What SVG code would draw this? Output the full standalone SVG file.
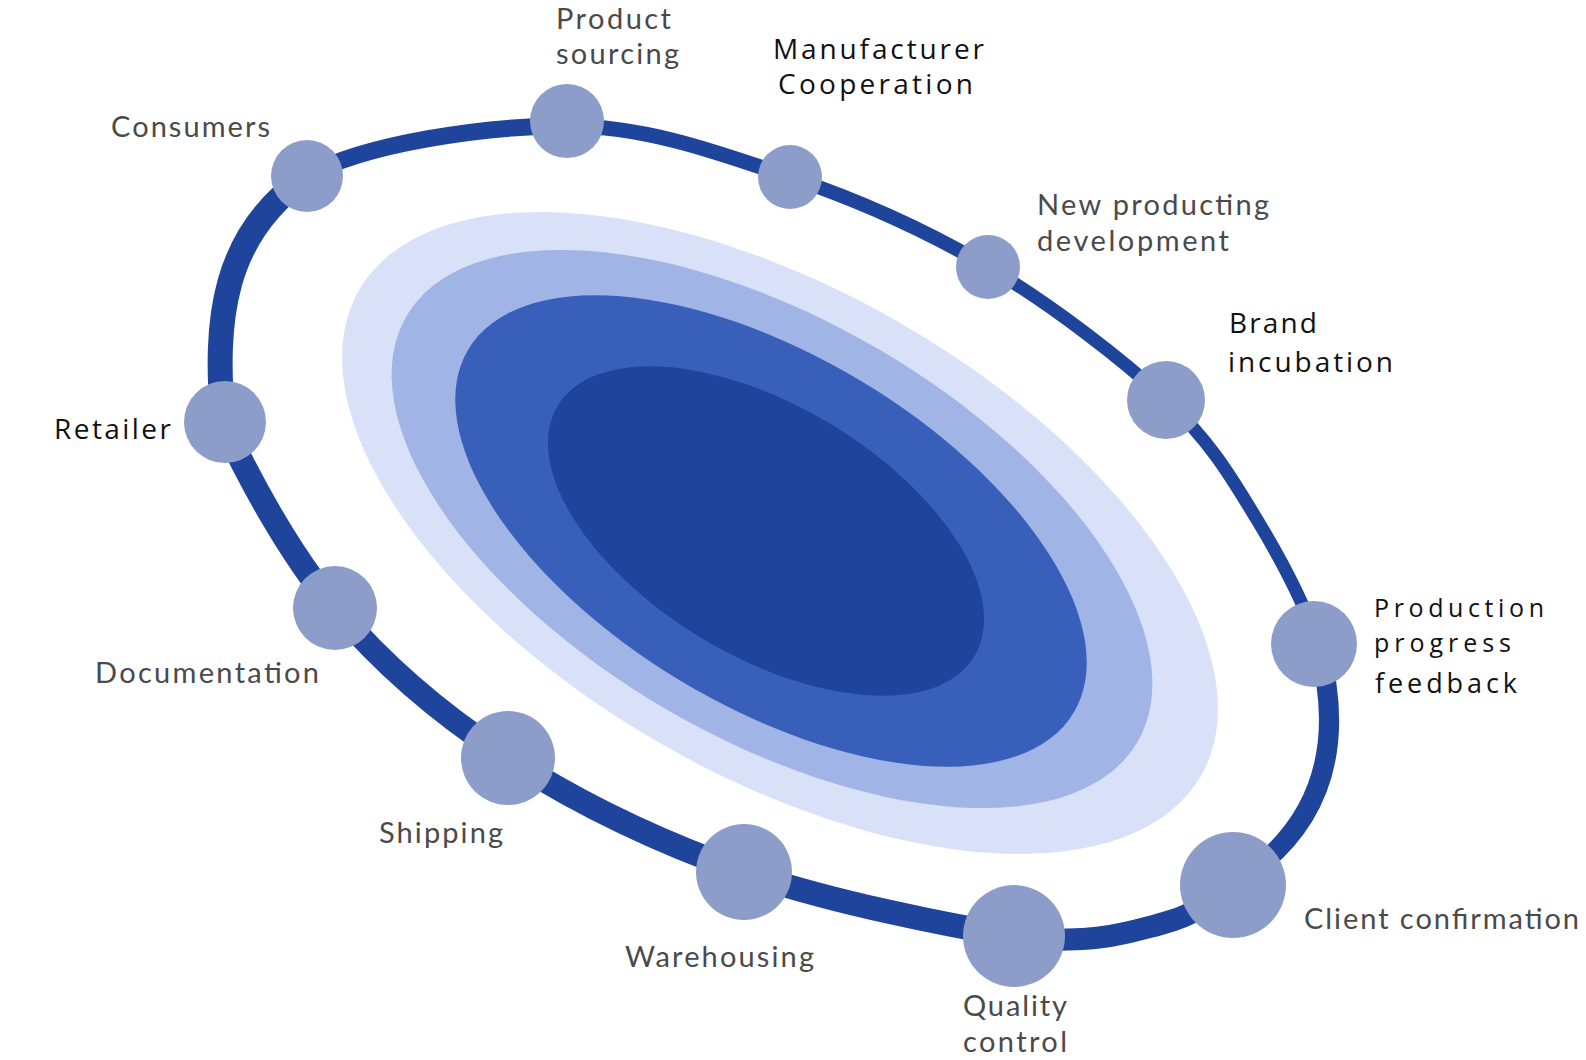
<svg xmlns="http://www.w3.org/2000/svg" width="1586" height="1060" viewBox="0 0 1586 1060">
  <style>
    .ring { fill: none; stroke: #1f449c; stroke-linecap: round; }
    .node { fill: #8c9dca; }
    .lg { font-family: Lato, "Noto Sans", "Liberation Sans", sans-serif; font-size: 29px; fill: #4a4a4a; }
    .lb { font-family: "Open Sans", "Noto Sans", "Liberation Sans", sans-serif; font-size: 28px; fill: #111111; }
  </style>
  <rect width="1586" height="1060" fill="#ffffff"/>
  <g id="core">
    <ellipse cx="780" cy="533" rx="486" ry="242" transform="rotate(30 780 533)" fill="#d8e1f8"/>
    <ellipse cx="772" cy="529" rx="423" ry="209" transform="rotate(30.2 772 529)" fill="#a0b5e6"/>
    <ellipse cx="771" cy="531" rx="353" ry="175" transform="rotate(31 771 531)" fill="#3860bb"/>
    <ellipse cx="766" cy="531" rx="243" ry="125" transform="rotate(31 766 531)" fill="#1e449c"/>
  </g>
  <g id="connectors">
    <path class="ring" stroke-width="17" d="M307,176 C364.8,143.3 486.5,125.8 567,126"/>
    <path class="ring" stroke-width="15" d="M567,126 C647.5,126.2 719.8,153.2 790,177"/>
    <path class="ring" stroke-width="14" d="M790,177 C860.2,200.8 925.3,229.8 988,267"/>
    <path class="ring" stroke-width="13" d="M988,267 C1050.7,304.2 1121.3,358.2 1166,400"/>
    <path class="ring" stroke-width="13" d="M1166,400 C1210.7,441.8 1231.3,477.3 1256,518 C1280.7,558.7 1305,605 1318,644"/>
    <path class="ring" stroke-width="20" d="M1318,644 C1336,710 1345,810 1240,880"/>
    <path class="ring" stroke-width="22" d="M1233,885 C1198.8,917.2 1161.5,924.5 1125,933 C1088.5,941.5 1045.7,941.1 1014,936"/>
    <path class="ring" stroke-width="24" d="M1014,936 C950.5,925.8 828.3,901.7 744,872"/>
    <path class="ring" stroke-width="24" d="M744,872 C659.7,842.3 576.2,802 508,758"/>
    <path class="ring" stroke-width="23" d="M508,758 C439.8,714 382.2,664 335,608"/>
    <path class="ring" stroke-width="24" d="M335,608 C287.8,552 244.2,470 223,422"/>
    <path class="ring" stroke-width="25" d="M223,422 C214,320 222,235 307,176"/>
  </g>
  <g id="node-consumers">
    <circle class="node" cx="307" cy="176" r="36"/>
    <text class="lg" x="111" y="137" textLength="159">Consumers</text>
  </g>
  <g id="node-product-sourcing">
    <circle class="node" cx="567" cy="121" r="37"/>
    <text class="lg" x="556" y="29" textLength="115">Product</text>
    <text class="lg" x="556" y="64" textLength="123">sourcing</text>
  </g>
  <g id="node-manufacturer-cooperation">
    <circle class="node" cx="790" cy="177" r="32"/>
    <text class="lb" x="773" y="59" textLength="211">Manufacturer</text>
    <text class="lb" x="778" y="94" textLength="195">Cooperation</text>
  </g>
  <g id="node-new-producting-development">
    <circle class="node" cx="988" cy="267" r="32"/>
    <text class="lg" x="1037" y="215" textLength="232">New producting</text>
    <text class="lg" x="1037" y="251" textLength="192">development</text>
  </g>
  <g id="node-brand-incubation">
    <circle class="node" cx="1166" cy="400" r="39"/>
    <text class="lb" x="1229" y="333" textLength="88">Brand</text>
    <text class="lb" x="1228" y="372" textLength="165">incubation</text>
  </g>
  <g id="node-production-progress-feedback">
    <circle class="node" cx="1314" cy="644" r="43"/>
    <text class="lb" x="1374" y="617" textLength="170" style="font-size:25px">Production</text>
    <text class="lb" x="1374" y="652" textLength="137" style="font-size:25px">progress</text>
    <text class="lb" x="1375" y="693" textLength="142" style="font-size:27px">feedback</text>
  </g>
  <g id="node-client-confirmation">
    <circle class="node" cx="1233" cy="885" r="53"/>
    <text class="lg" x="1304" y="929" textLength="275">Client confirmation</text>
  </g>
  <g id="node-quality-control">
    <circle class="node" cx="1014" cy="936" r="51"/>
    <text class="lg" x="963" y="1016" textLength="104">Quality</text>
    <text class="lg" x="963" y="1052" textLength="104">control</text>
  </g>
  <g id="node-warehousing">
    <circle class="node" cx="744" cy="872" r="48"/>
    <text class="lg" x="625" y="967" textLength="189">Warehousing</text>
  </g>
  <g id="node-shipping">
    <circle class="node" cx="508" cy="758" r="47"/>
    <text class="lg" x="379" y="843" textLength="124">Shipping</text>
  </g>
  <g id="node-documentation">
    <circle class="node" cx="335" cy="608" r="42"/>
    <text class="lg" x="95" y="683" textLength="224">Documentation</text>
  </g>
  <g id="node-retailer">
    <circle class="node" cx="225" cy="422" r="41"/>
    <text class="lb" x="54" y="439" textLength="117">Retailer</text>
  </g>
</svg>
